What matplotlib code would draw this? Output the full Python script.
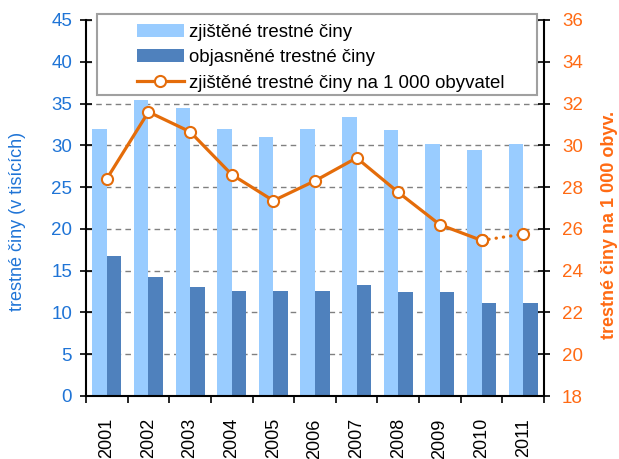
import matplotlib
matplotlib.use('Agg')
import matplotlib.pyplot as plt
import numpy as np
from matplotlib.lines import Line2D
from matplotlib.patches import Patch, Rectangle

plt.rcParams['font.family'] = ['Liberation Sans', 'DejaVu Sans']

# data
years = ['2001', '2002', '2003', '2004', '2005', '2006', '2007', '2008', '2009', '2010', '2011']
zjistene = [32.0, 35.4, 34.5, 32.0, 31.0, 32.0, 33.4, 31.8, 30.1, 29.4, 30.1]
objasnene = [16.8, 14.2, 13.1, 12.6, 12.6, 12.6, 13.3, 12.5, 12.5, 11.1, 11.1]
na_1000 = [28.4, 31.6, 30.65, 28.6, 27.35, 28.3, 29.4, 27.75, 26.2, 25.45, 25.75]

col_light = '#99CCFF'
col_dark = '#4F81BD'
col_line = '#E46C0A'
col_left = '#1F74D6'
col_right = '#FF6A13'

W, H = 619, 459
fig = plt.figure(figsize=(W / 100, H / 100), dpi=100)
ax = fig.add_axes([86 / W, 63 / H, 458 / W, 376 / H])
ax2 = ax.twinx()

x = np.arange(len(years))
w = 0.35
ax.bar(x - w / 2, zjistene, width=w, color=col_light, zorder=2)
ax.bar(x + w / 2, objasnene, width=w, color=col_dark, zorder=2)

ax.set_xlim(-0.5, len(years) - 0.5)
ax.set_ylim(0, 45)
ax.set_yticks(np.arange(0, 46, 5))
ax.yaxis.grid(True, linestyle=(0, (4, 3)), color='#808080', linewidth=1.0, zorder=0)
ax.set_axisbelow(True)

ax.set_xticks(np.arange(-0.5, len(years), 1.0))
ax.set_xticklabels([])
ax.set_xticks(x, minor=True)
ax.set_xticklabels(years, minor=True, rotation=90, fontsize=13)
ax.tick_params(axis='x', which='minor', length=0, pad=16)
ax.tick_params(axis='x', which='major', length=5, width=1.2, direction='out')
ax.tick_params(axis='y', colors='black', labelcolor=col_left, labelsize=13.5,
               direction='inout', length=8, width=1.2, pad=6)
ax.set_ylabel('trestné činy (v tisících)', color=col_left, fontsize=13)
ax.yaxis.set_label_coords(-0.131, 0.465)

for s in ['top', 'right']:
    ax.spines[s].set_visible(False)
ax.spines['left'].set_linewidth(1.5)
ax.spines['bottom'].set_linewidth(1.5)

# line on secondary axis (last segment dotted)
ax2.plot(x[:-1], na_1000[:-1], color=col_line, linewidth=2.3, marker='o',
         markersize=8, markerfacecolor='white', markeredgecolor=col_line,
         markeredgewidth=1.5, zorder=3)
ax2.plot(x[-2:], na_1000[-2:], color=col_line, linewidth=2.3,
         linestyle=(0, (0.1, 2.2)), dash_capstyle='round',
         marker='o', markersize=8, markerfacecolor='white',
         markeredgecolor=col_line, markeredgewidth=1.5, zorder=3)
ax2.set_ylim(18, 36)
ax2.set_yticks(np.arange(18, 37, 2))
ax2.tick_params(axis='y', colors='black', labelcolor=col_right, labelsize=13.5,
                direction='inout', length=8, width=1.2, pad=9)
ax2.set_ylabel('trestné činy na 1 000 obyv.', color=col_right, fontsize=13,
               fontweight='bold')
ax2.yaxis.set_label_coords(1.124, 0.455)
for s in ['top', 'left', 'bottom']:
    ax2.spines[s].set_visible(False)
ax2.spines['right'].set_linewidth(1.5)

# legend box
fig.patches.append(Rectangle((97 / W, 1 - 95 / H), 440 / W, 81 / H,
                             transform=fig.transFigure, facecolor='white',
                             edgecolor='#A0A0A0', linewidth=1.5, zorder=4))
handles = [
    Patch(facecolor=col_light, label='zjištěné trestné činy'),
    Patch(facecolor=col_dark, label='objasněné trestné činy'),
    Line2D([0], [0], color=col_line, linewidth=2.3, marker='o', markersize=8,
           markerfacecolor='white', markeredgecolor=col_line, markeredgewidth=1.5,
           label='zjištěné trestné činy na 1 000 obyvatel'),
]
fig.legend(handles=handles, loc='upper left', bbox_to_anchor=(137 / W, 1 - 24 / H),
           fontsize=13.4, frameon=False, handlelength=2.5, handletextpad=0.3,
           borderpad=0, borderaxespad=0, labelspacing=0.45)

fig.savefig('out.png', dpi=100)
